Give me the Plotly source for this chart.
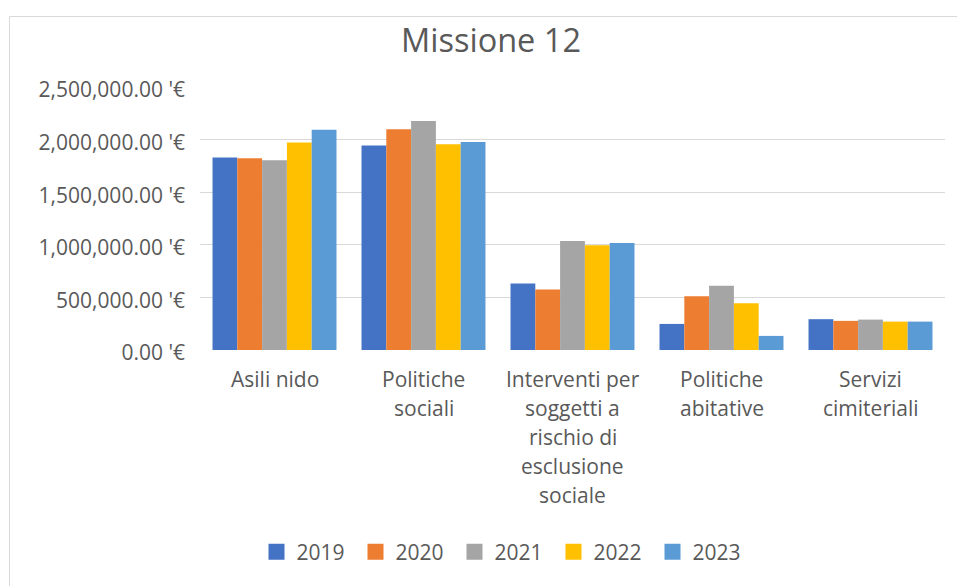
import plotly.graph_objects as go

categories = ["Asili nido", "Politiche sociali", "Interventi per soggetti a rischio di esclusione sociale",
              "Politiche abitative", "Servizi cimiteriali"]
label_lines = [["Asili nido"], ["Politiche", "sociali"],
               ["Interventi per", "soggetti a", "rischio di", "esclusione", "sociale"],
               ["Politiche", "abitative"], ["Servizi", "cimiteriali"]]
years = ["2019", "2020", "2021", "2022", "2023"]
v2019 = [1829000, 1943000, 633000, 248000, 293000]
v2020 = [1823000, 2099000, 576000, 512000, 277000]
v2021 = [1803000, 2176000, 1037000, 611000, 289000]
v2022 = [1972000, 1956000, 996000, 445000, 270000]
v2023 = [2093000, 1978000, 1018000, 134000, 270000]
series = [v2019, v2020, v2021, v2022, v2023]
colors = ["#4472C4", "#ED7D31", "#A5A5A5", "#FFC000", "#5B9BD5"]
y_ticks = [0, 500000, 1000000, 1500000, 2000000, 2500000]
y_ticktext = [f"{v:,.2f} '€" for v in y_ticks]

FONT = "Open Sans"
TXT = "#595959"

fig = go.Figure()
for yr, vals, c in zip(years, series, colors):
    fig.add_trace(go.Bar(x=categories, y=vals, name=yr, marker=dict(color=c, line=dict(width=0)),
                         showlegend=False))
for yr, c in zip(years, colors):
    fig.add_trace(go.Scatter(x=[None], y=[None], mode="markers", name=yr,
                             marker=dict(symbol="square", size=16, color=c)))

annotations = []
for cat, lines in zip(categories, label_lines):
    for i, ln in enumerate(lines):
        annotations.append(dict(x=cat, y=0, xref="x", yref="y", text=ln, showarrow=False,
                                yanchor="middle", xanchor="center", yshift=-29 - 29 * i,
                                font=dict(family=FONT, size=21, color=TXT)))

fig.update_layout(
    width=957, height=586,
    margin=dict(l=200, r=12, t=87, b=236),
    paper_bgcolor="white", plot_bgcolor="white",
    barmode="group", bargap=0.168, bargroupgap=0,
    title=dict(text="Missione 12", x=(491 - 200) / 745, xref="paper", xanchor="center",
               y=1 - 41 / 586, yanchor="middle",
               font=dict(family=FONT, size=32.5, color=TXT)),
    xaxis=dict(showticklabels=False, showgrid=False, zeroline=False, showline=False),
    yaxis=dict(range=[0, 2500000], tickmode="array", tickvals=y_ticks, ticktext=y_ticktext,
               showgrid=True, gridcolor="#d9d9d9", gridwidth=1, zeroline=False,
               tickfont=dict(family=FONT, size=21, color=TXT), ticklabelstandoff=14,
               ticklabelshift=3),
    legend=dict(orientation="h", x=(504 - 200) / 745, xanchor="center", y=(350 - 552) / 263,
                yanchor="middle", font=dict(family=FONT, size=21, color=TXT),
                entrywidth=54, entrywidthmode="pixels"),
    annotations=annotations,
    shapes=[dict(type="rect", xref="paper", yref="paper", x0=(9.5 - 200) / 745, x1=(970 - 200) / 745,
                 y0=(350 - 600) / 263, y1=(350 - 16.5) / 263, line=dict(color="#d9d9d9", width=1),
                 fillcolor="rgba(0,0,0,0)", layer="below")],
)
fig.write_html("out.html", config={"displayModeBar": False},
               post_script="document.body.style.margin='0';")
